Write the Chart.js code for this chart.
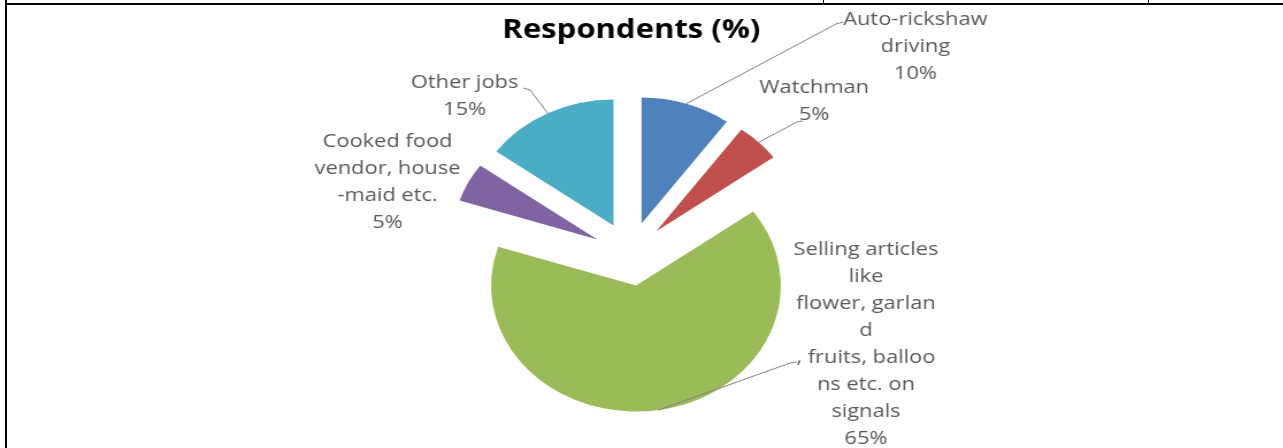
<!DOCTYPE html>
<html>
<head>
<meta charset="utf-8">
<title>Respondents (%)</title>
<script src="https://cdn.jsdelivr.net/npm/chart.js@4.4.0/dist/chart.umd.min.js"></script>
<style>
  html, body { margin: 0; padding: 0; background: #fff; }
  body { width: 1283px; height: 448px; position: relative; overflow: hidden; }
  .rule { position: absolute; background: #000; }
  /* chart is laid out narrow and stretched sideways, like the pasted figure */
  #wrap { position: absolute; left: 0; top: 0; width: 1116px; height: 448px;
          transform: scaleX(1.15); transform-origin: 0 0; }
</style>
</head>
<body>
<!-- table cell borders -->
<div class="rule" style="left:5px;top:0;width:2px;height:448px"></div>
<div class="rule" style="left:5px;top:3px;width:1278px;height:2px"></div>
<div class="rule" style="left:823px;top:0;width:1px;height:4px"></div>
<div class="rule" style="left:1148px;top:0;width:1px;height:4px"></div>

<div id="wrap"><canvas id="pieChart"></canvas></div>

<script>
// --- DATA ---
const chartTitle = "Respondents (%)";
const categories = [
  "Auto-rickshaw driving",
  "Watchman",
  "Selling articles like flower, garland , fruits, balloons etc. on signals",
  "Cooked food vendor, house -maid etc.",
  "Other jobs"
];
const respondents = [10, 5, 65, 5, 15];
const sliceColors = ["#4F81BD", "#C0504D", "#9BBB59", "#8064A2", "#4BACC6"];

// how the category names wrap in the data labels
const labelLines = [
  ["Auto-rickshaw", "driving"],
  ["Watchman"],
  ["Selling articles", "like", "flower, garlan", "d", ", fruits, balloo", "ns etc. on", "signals"],
  ["Cooked food", "vendor, house", "-maid etc."],
  ["Other jobs"]
];

// --- LABEL PLACEMENT (canvas px) ---
const EXPLODE = 32;
const LINE_H = 27;
const labelSpots = [
  { x: 796, y: 20, leader: [[733, 22], [727, 24]] },
  { x: 708, y: 88, leader: [[698, 121], [693, 122]] },
  { x: 753, y: 250, leader: [[693, 362], [687, 363]] },
  { x: 337, y: 142, leader: null },
  { x: 404, y: 83, leader: [[455, 88], [461, 90]] }
];

// --- PLUGINS ---
// pull every slice away from the centre along its bisector
const explodePlugin = {
  id: "explode",
  afterDatasetsUpdate(chart) {
    chart.getDatasetMeta(0).data.forEach(arc => {
      const mid = (arc.startAngle + arc.endAngle) / 2;
      arc.x += Math.cos(mid) * EXPLODE;
      arc.y += Math.sin(mid) * EXPLODE;
    });
  }
};

// title, outside labels and leader lines
const calloutPlugin = {
  id: "callouts",
  afterDatasetsDraw(chart) {
    const ctx = chart.ctx;
    const arcs = chart.getDatasetMeta(0).data;
    ctx.save();
    ctx.textAlign = "center";
    ctx.textBaseline = "middle";

    ctx.fillStyle = "#000";
    ctx.font = "bold 27px 'Open Sans'";
    ctx.fillText(chartTitle, 549, 30);

    ctx.font = "19px 'Open Sans'";
    arcs.forEach((arc, i) => {
      const spot = labelSpots[i];
      const lines = labelLines[i].concat(respondents[i] + "%");
      ctx.fillStyle = "#595959";
      lines.forEach((t, k) => ctx.fillText(t, spot.x, spot.y + k * LINE_H));

      if (spot.leader) {
        const mid = (arc.startAngle + arc.endAngle) / 2;
        const ex = arc.x + Math.cos(mid) * arc.outerRadius;
        const ey = arc.y + Math.sin(mid) * arc.outerRadius;
        ctx.strokeStyle = "#808080";
        ctx.lineWidth = 1;
        ctx.beginPath();
        ctx.moveTo(spot.leader[0][0], spot.leader[0][1]);
        ctx.lineTo(spot.leader[1][0], spot.leader[1][1]);
        ctx.lineTo(ex, ey);
        ctx.stroke();
      }
    });
    ctx.restore();
  }
};

// --- CHART ---
new Chart(document.getElementById("pieChart").getContext("2d"), {
  type: "pie",
  data: {
    labels: categories,
    datasets: [{
      data: respondents,
      backgroundColor: sliceColors,
      borderWidth: 0
    }]
  },
  options: {
    responsive: true,
    maintainAspectRatio: false,
    animation: false,
    layout: { padding: { top: 128, bottom: 68, left: 300, right: 320 } },
    plugins: {
      legend: { display: false },
      tooltip: { enabled: false }
    }
  },
  plugins: [explodePlugin, calloutPlugin]
});
</script>
</body>
</html>
